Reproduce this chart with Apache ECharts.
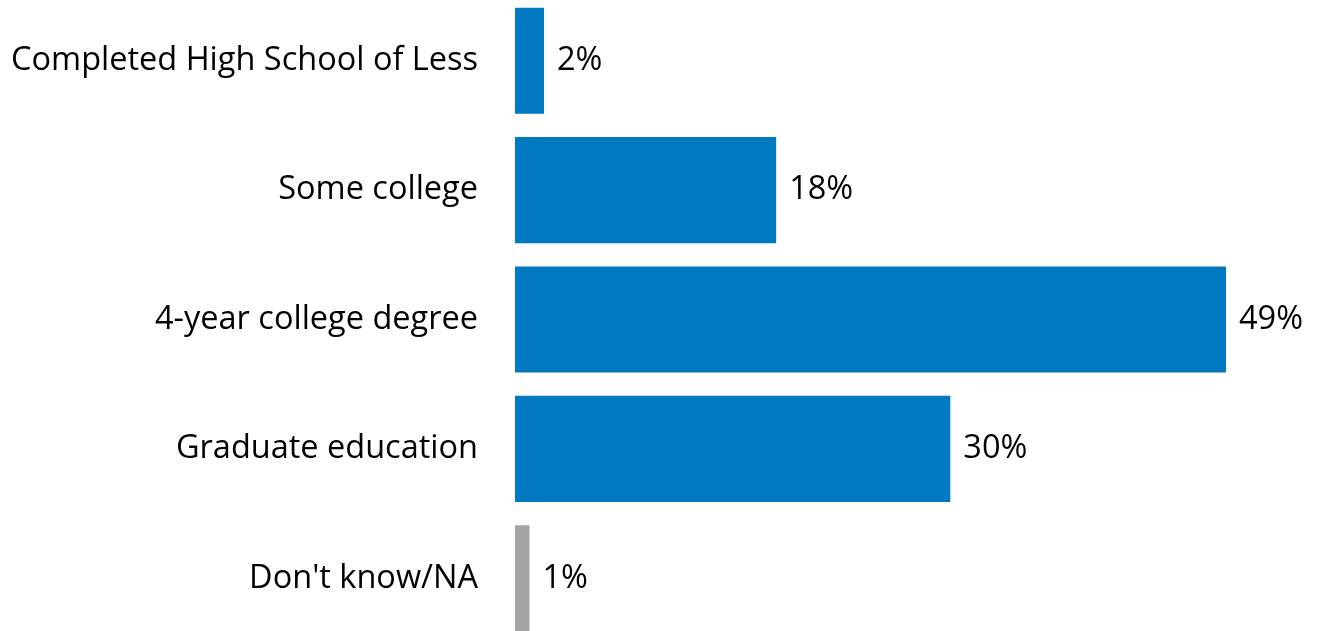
<!DOCTYPE html>
<html>
<head>
<meta charset="utf-8">
<script src="https://cdn.jsdelivr.net/npm/echarts@6/dist/echarts.min.js"></script>
<style>html,body{margin:0;padding:0;background:#fff;overflow:hidden;width:1317px;height:631px}#c{position:absolute;left:0;top:-4px;width:1317px;height:647px}</style>
</head>
<body>
<div id="c"></div>
<script>
const categories = ["Completed High School of Less", "Some college", "4-year college degree", "Graduate education", "Don't know/NA"];
const values = [2, 18, 49, 30, 1];
const barColors = ["#0079C1", "#0079C1", "#0079C1", "#0079C1", "#A5A5A5"];

const chart = echarts.init(document.getElementById('c'), null, {renderer: 'canvas'});
const font = "'Open Sans', sans-serif";
chart.setOption({
  animation: false,
  backgroundColor: '#ffffff',
  grid: {left: 515, right: 76.5, top: 0, bottom: 0, containLabel: false},
  xAxis: {type: 'value', min: 0, max: 50, show: false},
  yAxis: {
    type: 'category', inverse: true, data: categories,
    axisLine: {show: false}, axisTick: {show: false},
    axisLabel: {color: '#000', fontSize: 32.5, fontFamily: font, margin: 37}
  },
  series: [{
    type: 'bar',
    data: values.map((v, i) => ({value: v, itemStyle: {color: barColors[i]}})),
    barCategoryGap: '18%',
    label: {show: true, position: 'right', distance: 13, formatter: p => p.value + '%', color: '#000', fontSize: 32.5, fontFamily: font}
  }]
});
</script>
</body>
</html>
